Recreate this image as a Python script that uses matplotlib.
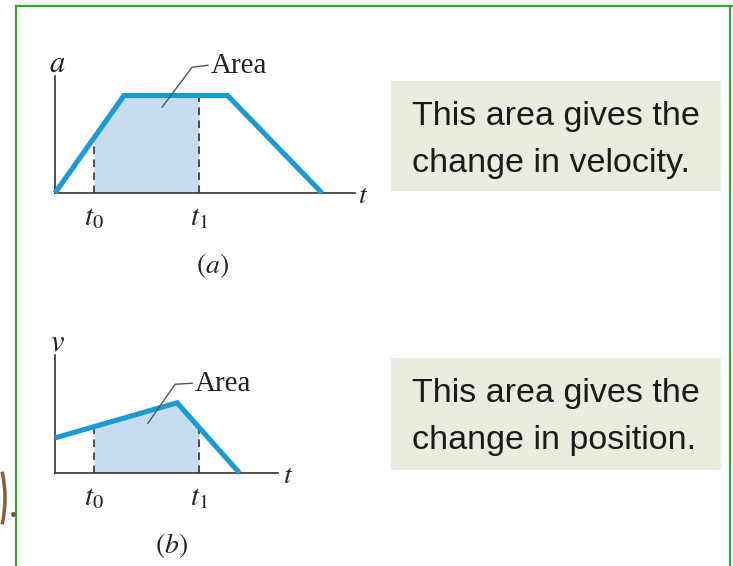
import numpy as np
import matplotlib
matplotlib.use("Agg")
import matplotlib.pyplot as plt
from matplotlib.patches import Rectangle, Arc

plt.rcParams['mathtext.fontset'] = 'stix'

# (a) acceleration versus time: ramp up, constant, ramp down
t_a = [0.0, 2.3, 5.75, 8.9]
acc = [0.0, 1.0, 1.0, 0.0]

# (b) velocity versus time: slow rise, then a steep drop
t_b = [0.0, 4.07, 6.15]
vel = [0.36, 0.72, 0.0]

# integration limits
t0, t1 = 1.3, 4.8
tick_labels = [r'$t_0$', r'$t_1$']
axis_labels = [r'$a$', r'$v$']
panel_labels = [r'$(a)$', r'$(b)$']
notes = [["This area gives the", "change in velocity."],
         ["This area gives the", "change in position."]]

BLUE = '#1a9bd7'
FILL = '#c6dcf1'
INK = '#222222'
GREEN = '#3aa53a'
BOX = '#ebecdf'

W, H = 733, 566
fig = plt.figure(figsize=(W / 100, H / 100), dpi=100)

# full-figure layer in pixel units for the frame and caption boxes
ov = fig.add_axes([0, 0, 1, 1])
ov.set_xlim(0, W)
ov.set_ylim(H, 0)
ov.axis('off')

ov.plot([16, 16], [H, 6], color=GREEN, lw=1.6)
ov.plot([16, W], [6, 6], color=GREEN, lw=1.6)
ov.plot([730, 730], [6, H], color=GREEN, lw=1.6)
ov.add_patch(Arc((-40, 498), 90, 150, theta1=-32, theta2=32,
                 color='#8a5a3a', lw=2.5))
ov.plot([13], [514], 'o', ms=2.5, color='#7a5030')

for (bx, by, bw, bh), lines in zip([(391, 81, 330, 110), (391, 358, 330, 112)], notes):
    ov.add_patch(Rectangle((bx, by), bw, bh, fc=BOX, ec='none'))
    for k, line in enumerate(lines):
        ov.text(bx + 21, by + 44 + 47 * k, line, fontsize=24.5,
                family='Liberation Sans', color='#1c1a1b', va='baseline')


def px_axes(x0, y0, x1, y1):
    return fig.add_axes([x0 / W, 1 - y1 / H, (x1 - x0) / W, (y1 - y0) / H])


def panel(ax, t, y, xmax, ymax, ylab, tlab_x, plab, plab_x, leader, area_xy):
    ax.set_facecolor('none')
    ax.set_xlim(0, xmax)
    ax.set_ylim(0, ymax)
    for s in ('top', 'right'):
        ax.spines[s].set_visible(False)
    for s in ('left', 'bottom'):
        ax.spines[s].set_color('#333333')
        ax.spines[s].set_linewidth(1.2)
    ax.set_xticks([])
    ax.set_yticks([])

    # shaded area between t0 and t1 under the curve
    ts = [t0] + [x for x in t if t0 < x < t1] + [t1]
    ys = np.interp(ts, t, y)
    ax.fill_between(ts, 0, ys, color=FILL, lw=0, zorder=1)

    for tx, lab in zip((t0, t1), tick_labels):
        ax.plot([tx, tx], [0, np.interp(tx, t, y)], color=INK, lw=1.1,
                ls=(0, (5, 3.5)), zorder=2)
        ax.text(tx, -0.1, lab, fontsize=21, ha='center', va='top', color=INK)

    ax.plot(t, y, color=BLUE, lw=3.7, solid_joinstyle='miter',
            solid_capstyle='butt', clip_on=False, zorder=3)

    lx, ly = zip(*leader)
    ax.plot(lx, ly, color='#555555', lw=1.0, clip_on=False, zorder=4)
    ax.text(area_xy[0], area_xy[1], 'Area', fontsize=21,
            family='Liberation Serif', color=INK, va='baseline', ha='left')

    ax.text(0.07, ymax + 0.13, ylab, fontsize=22, ha='center', va='center', color=INK)
    ax.text(tlab_x, -0.02, r'$t$', fontsize=20, ha='center', va='center', color=INK)
    ax.text(plab_x, -0.74, plab, fontsize=20, ha='center', va='center', color=INK)


ax_a = px_axes(55, 76, 355, 193)
panel(ax_a, t_a, acc, 10.0, 1.2, axis_labels[0], 10.27, panel_labels[0], 5.25,
      [(3.57, 0.88), (4.57, 1.29), (5.1, 1.31)], (5.2, 1.23))

ax_b = px_axes(55, 355, 278, 473)
panel(ax_b, t_b, vel, 223 / 30, 1.21, axis_labels[1], 7.77, panel_labels[1], 3.87,
      [(3.1, 0.51), (4.0, 0.91), (4.57, 0.92)], (4.67, 0.84))

fig.savefig('out.png', dpi=100)
